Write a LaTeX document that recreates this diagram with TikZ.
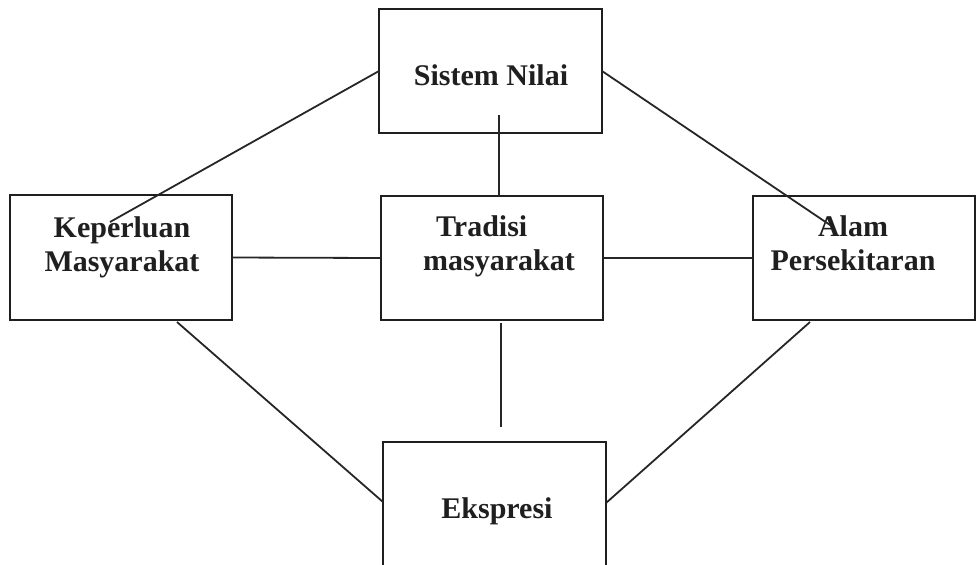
\documentclass[tikz,border=0pt]{standalone}
\usepackage{fontspec}
\setmainfont{Liberation Serif}
\usepackage{xcolor}
\usepackage{tikz}
\usetikzlibrary{positioning,calc}

\begin{document}
\begin{tikzpicture}[x=0.5pt,y=-0.5pt,
  kotak/.style={draw=black!88,line width=1pt,inner sep=0pt,outer sep=0pt,minimum width=111pt,minimum height=62pt},
  teks/.style={text=black!88,font=\fontsize{15}{17}\selectfont\bfseries,inner sep=0pt},
  garis/.style={draw=black!85,line width=0.9pt}]
\useasboundingbox (0,0) rectangle (976,564);
\clip (0,0) rectangle (976,564);
% kotak
\node[kotak,minimum width=111.5pt] (sistem) at (490.5,71) {};
\node[kotak,minimum height=62.5pt] (keperluan) at (121,257.5) {};
\node[kotak] (tradisi) at (492,258) {};
\node[kotak] (alam) at (864,258) {};
\node[kotak,minimum width=111.5pt,minimum height=64pt] (ekspresi) at (494.5,506) {};
% teks
\node[teks,anchor=base] (tSistem) at (491,85) {Sistem Nilai};
\node[teks,align=center] (tKeperluan) at (122,247) {Keperluan\\Masyarakat};
\node[teks,align=left] (tTradisi) at (499,246) {\hspace*{6.5pt}Tradisi\\masyarakat};
\node[teks,align=center] (tAlam) at (853,243.5) {Alam\\Persekitaran};
\node[teks,anchor=base] (tEkspresi) at (497,518) {Ekspresi};
% garis
\draw[garis] (sistem.west) -- ([xshift=50pt,yshift=-13.5pt]keperluan.north west);
\draw[garis] (sistem.east) -- ([xshift=38.5pt,yshift=-14.5pt]alam.north west);
\draw[garis] ([xshift=4.25pt,yshift=9pt]sistem.south) coordinate (sa) -- (sa |- tradisi.north);
\draw[garis] (keperluan.east) -- (tradisi.west);
\draw[garis] (tradisi.east) -- (alam.west);
\coordinate (vx) at (501,0);
\draw[garis,shorten <=1.5pt,shorten >=7.5pt] (tradisi.south -| vx) -- (ekspresi.north -| vx);
\draw[garis] ([xshift=-27.5pt,yshift=-1pt]keperluan.south east) -- ([yshift=2pt]ekspresi.west);
\draw[garis] ([xshift=-27pt,yshift=-1pt]alam.south) -- ([yshift=1.5pt]ekspresi.east);
\end{tikzpicture}
\end{document}
